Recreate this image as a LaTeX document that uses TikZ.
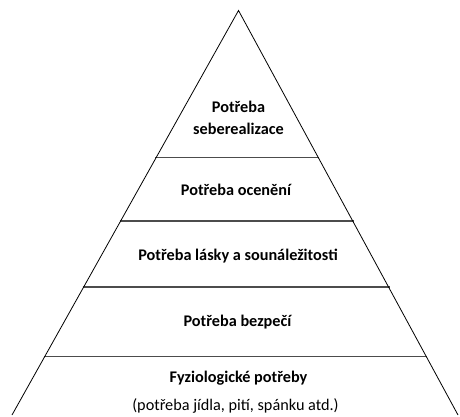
\documentclass[tikz,border=0pt]{standalone}
\usepackage{fontspec}
\setmainfont{Carlito}
\begin{document}
\begin{tikzpicture}[x=1bp,y=-1bp,
  edge/.style={black,line width=0.8bp},
  level/.style={draw=black!70,line width=1.1bp},
  lab/.style={font=\bfseries\fontsize{16.3}{21}\selectfont,inner sep=0pt,anchor=base},
  sub/.style={font=\fontsize{16.3}{20}\selectfont,inner sep=0pt,anchor=base}]
\useasboundingbox (0,0) rectangle (460,416);
\coordinate (apex) at (238.5,10.5);
\coordinate (bl) at (12,415);
\coordinate (br) at (458,415);
% level lines (from left side to right side)
\foreach \y/\n in {157.5/a,221/b,287/c,356.5/d}{
  \path (apex) -- (bl) coordinate[pos={(\y-10.5)/404.5}] (L\n);
  \path (apex) -- (br) coordinate[pos={(\y-10.5)/404.5}] (R\n);
  \draw[level] ([xshift=-1bp]L\n) -- ([xshift=1bp]R\n);
}
\draw[edge] (bl) -- (apex) -- (br);
\node[lab] (n1a) at (238.5,112.7) {Potřeba};
\node[lab] (n1b) at (238.5,134) {seberealizace};
\node[lab] (n2) at (236,195) {Potřeba ocenění};
\node[lab] (n3) at (238,260) {Potřeba lásky a sounáležitosti};
\node[lab] (n4) at (237.5,326.7) {Potřeba bezpečí};
\node[lab] (n5) at (238.5,382.7) {Fyziologické potřeby};
\node[sub] (n6) at (235.5,410) {(potřeba jídla, pití, spánku atd.)};
\end{tikzpicture}
\end{document}
